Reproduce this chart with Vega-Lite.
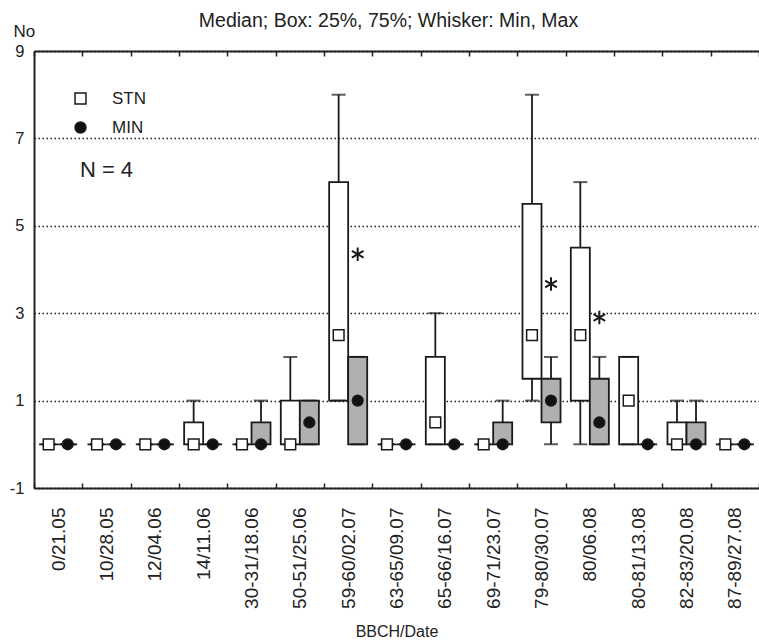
{
  "$schema": "https://vega.github.io/schema/vega-lite/v6.json",
  "autosize": {"type": "none"},
  "width": 725,
  "height": 437,
  "padding": {"left": 34, "top": 51, "right": 0, "bottom": 154},
  "background": "white",
  "config": {
    "view": {"stroke": null},
    "font": "Liberation Sans",
    "axis": {"titleFontWeight": "normal", "titleColor": "#222", "labelColor": "#222", "domainColor": "#222", "domainWidth": 2, "tickColor": "#222"},
    "axisBottom": {"titleFontSize": 16, "titleFontWeight": "normal", "titlePadding": 15, "labelFontSize": 19, "labelAngle": -90, "labelPadding": 24, "tickBand": "extent", "tickSize": -5, "tickWidth": 1.5},
    "axisTop": {"labels": false, "tickBand": "extent", "tickSize": -5, "tickWidth": 1.5}
  },
  "title": {"text": "Median; Box: 25%, 75%; Whisker: Min, Max", "fontSize": 19.5, "fontWeight": "normal", "font": "Liberation Sans", "color": "#222", "anchor": "middle", "dx": -8, "offset": -9},
  "datasets": {
    "stats": [
      {"cat": "0/21.05", "grp": "STN", "min": 0, "q1": 0, "med": 0, "q3": 0, "max": 0},
      {"cat": "0/21.05", "grp": "MIN", "min": 0, "q1": 0, "med": 0, "q3": 0, "max": 0},
      {"cat": "10/28.05", "grp": "STN", "min": 0, "q1": 0, "med": 0, "q3": 0, "max": 0},
      {"cat": "10/28.05", "grp": "MIN", "min": 0, "q1": 0, "med": 0, "q3": 0, "max": 0},
      {"cat": "12/04.06", "grp": "STN", "min": 0, "q1": 0, "med": 0, "q3": 0, "max": 0},
      {"cat": "12/04.06", "grp": "MIN", "min": 0, "q1": 0, "med": 0, "q3": 0, "max": 0},
      {"cat": "14/11.06", "grp": "STN", "min": 0, "q1": 0, "med": 0, "q3": 0.5, "max": 1},
      {"cat": "14/11.06", "grp": "MIN", "min": 0, "q1": 0, "med": 0, "q3": 0, "max": 0},
      {"cat": "30-31/18.06", "grp": "STN", "min": 0, "q1": 0, "med": 0, "q3": 0, "max": 0},
      {"cat": "30-31/18.06", "grp": "MIN", "min": 0, "q1": 0, "med": 0, "q3": 0.5, "max": 1},
      {"cat": "50-51/25.06", "grp": "STN", "min": 0, "q1": 0, "med": 0, "q3": 1, "max": 2},
      {"cat": "50-51/25.06", "grp": "MIN", "min": 0, "q1": 0, "med": 0.5, "q3": 1, "max": 1},
      {"cat": "59-60/02.07", "grp": "STN", "min": 1, "q1": 1, "med": 2.5, "q3": 6, "max": 8},
      {"cat": "59-60/02.07", "grp": "MIN", "min": 0, "q1": 0, "med": 1, "q3": 2, "max": 2},
      {"cat": "63-65/09.07", "grp": "STN", "min": 0, "q1": 0, "med": 0, "q3": 0, "max": 0},
      {"cat": "63-65/09.07", "grp": "MIN", "min": 0, "q1": 0, "med": 0, "q3": 0, "max": 0},
      {"cat": "65-66/16.07", "grp": "STN", "min": 0, "q1": 0, "med": 0.5, "q3": 2, "max": 3},
      {"cat": "65-66/16.07", "grp": "MIN", "min": 0, "q1": 0, "med": 0, "q3": 0, "max": 0},
      {"cat": "69-71/23.07", "grp": "STN", "min": 0, "q1": 0, "med": 0, "q3": 0, "max": 0},
      {"cat": "69-71/23.07", "grp": "MIN", "min": 0, "q1": 0, "med": 0, "q3": 0.5, "max": 1},
      {"cat": "79-80/30.07", "grp": "STN", "min": 1, "q1": 1.5, "med": 2.5, "q3": 5.5, "max": 8},
      {"cat": "79-80/30.07", "grp": "MIN", "min": 0, "q1": 0.5, "med": 1, "q3": 1.5, "max": 2},
      {"cat": "80/06.08", "grp": "STN", "min": 0, "q1": 1, "med": 2.5, "q3": 4.5, "max": 6},
      {"cat": "80/06.08", "grp": "MIN", "min": 0, "q1": 0, "med": 0.5, "q3": 1.5, "max": 2},
      {"cat": "80-81/13.08", "grp": "STN", "min": 0, "q1": 0, "med": 1, "q3": 2, "max": 2},
      {"cat": "80-81/13.08", "grp": "MIN", "min": 0, "q1": 0, "med": 0, "q3": 0, "max": 0},
      {"cat": "82-83/20.08", "grp": "STN", "min": 0, "q1": 0, "med": 0, "q3": 0.5, "max": 1},
      {"cat": "82-83/20.08", "grp": "MIN", "min": 0, "q1": 0, "med": 0, "q3": 0.5, "max": 1},
      {"cat": "87-89/27.08", "grp": "STN", "min": 0, "q1": 0, "med": 0, "q3": 0, "max": 0},
      {"cat": "87-89/27.08", "grp": "MIN", "min": 0, "q1": 0, "med": 0, "q3": 0, "max": 0}
    ],
    "stars": [
      {"cat": "59-60/02.07", "grp": "MIN", "y": 4.35},
      {"cat": "79-80/30.07", "grp": "MIN", "y": 3.67},
      {"cat": "80/06.08", "grp": "MIN", "y": 2.9}
    ],
    "note": [
      {"cat": "10/28.05", "y": 6.27, "label": "N = 4"}
    ]
  },
  "layer": [
    {
      "data": {"name": "stats"},
      "mark": {"type": "rule", "color": "#1a1a1a", "strokeWidth": 1.8},
      "encoding": {
        "x": {"field": "cat", "type": "nominal", "sort": null,
          "scale": {"paddingInner": 0, "paddingOuter": 0},
          "axis": {"orient": "bottom", "title": "BBCH/Date", "titleFontWeight": "normal", "grid": false}},
        "xOffset": {"field": "grp", "sort": ["STN", "MIN"], "scale": {"domain": ["STN", "MIN"], "paddingInner": 0, "paddingOuter": 0.27}},
        "y": {"field": "min", "type": "quantitative", "scale": {"domain": [-1, 9], "nice": false, "zero": false},
          "axis": {"values": [-1, 1, 3, 5, 7, 9], "labelExpr": "replace(datum.label, '\u2212', '-')", "grid": true, "gridDash": [1.5, 2.5], "gridColor": "#1a1a1a", "gridWidth": 1.4, "ticks": false,
            "labelFontSize": 16.5, "labelPadding": 10,
            "title": "No", "titleAngle": 0, "titleFontSize": 17,
            "titleAlign": "left", "titleBaseline": "alphabetic", "titleX": -21, "titleY": -15}},
        "y2": {"field": "max"}
      }
    },
    {
      "data": {"name": "stats"},
      "mark": {"type": "bar", "stroke": "#1a1a1a", "strokeWidth": 1.8},
      "encoding": {
        "x": {"field": "cat", "type": "nominal", "sort": null, "axis": null},
        "xOffset": {"field": "grp", "sort": ["STN", "MIN"]},
        "y": {"field": "q1", "type": "quantitative"},
        "y2": {"field": "q3"},
        "fill": {"condition": {"test": "datum.grp === 'MIN'", "value": "#b0b0b0"}, "value": "white"}
      }
    },
    {
      "data": {"name": "stats"},
      "transform": [{"fold": ["min", "max"], "as": ["stat", "v"]}],
      "mark": {"type": "tick", "color": "#1a1a1a", "size": 14, "thickness": 2},
      "encoding": {
        "x": {"field": "cat", "type": "nominal", "sort": null, "axis": null},
        "xOffset": {"field": "grp", "sort": ["STN", "MIN"]},
        "y": {"field": "v", "type": "quantitative"}
      }
    },
    {
      "data": {"name": "stats"},
      "mark": {"type": "point", "filled": true, "stroke": "#1a1a1a", "strokeWidth": 1.5, "opacity": 1, "size": 115},
      "encoding": {
        "x": {"field": "cat", "type": "nominal", "sort": null, "axis": null},
        "xOffset": {"field": "grp", "sort": ["STN", "MIN"]},
        "y": {"field": "med", "type": "quantitative"},
        "shape": {"field": "grp", "type": "nominal", "sort": ["STN", "MIN"], "scale": {"domain": ["STN", "MIN"], "range": ["square", "circle"]},
          "legend": {"orient": "none", "legendX": 38, "legendY": 39, "title": null, "labelFontSize": 17, "labelColor": "#222", "labelOffset": 23,
            "symbolSize": 120, "rowPadding": 11,
            "encode": {"symbols": {"update": {"stroke": {"value": "#1a1a1a"}, "strokeWidth": {"value": 1.3}, "opacity": {"value": 1}}}}}},
        "fill": {"field": "grp", "type": "nominal", "sort": ["STN", "MIN"], "scale": {"domain": ["STN", "MIN"], "range": ["white", "#111"]}}
      }
    },
    {
      "data": {"name": "stars"},
      "mark": {"type": "point", "shape": "M0,-1L0,1M-0.87,-0.5L0.87,0.5M-0.87,0.5L0.87,-0.5", "filled": false, "stroke": "#1a1a1a", "strokeWidth": 2, "opacity": 1, "size": 180},
      "encoding": {
        "x": {"field": "cat", "type": "nominal", "sort": null, "axis": null},
        "xOffset": {"field": "grp", "sort": ["STN", "MIN"]},
        "y": {"field": "y", "type": "quantitative"}
      }
    },
    {
      "data": {"name": "note"},
      "mark": {"type": "text", "fontSize": 22, "color": "#222", "align": "center", "baseline": "middle"},
      "encoding": {
        "x": {"field": "cat", "type": "nominal", "sort": null, "axis": null},
        "y": {"field": "y", "type": "quantitative"},
        "text": {"field": "label"}
      }
    },
    {
      "data": {"name": "stats"},
      "mark": {"type": "tick", "opacity": 0},
      "encoding": {
        "x": {"field": "cat", "type": "nominal", "sort": null,
          "axis": {"orient": "top", "title": null, "grid": false}},
        "y": {"field": "med", "type": "quantitative"}
      }
    }
  ]
}
